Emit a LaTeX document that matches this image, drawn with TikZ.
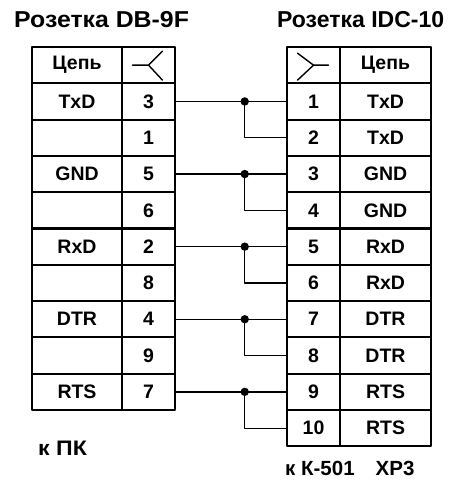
\documentclass[tikz,border=0pt]{standalone}
\usepackage{fontspec}
\setmainfont{Liberation Sans}
\begin{document}
\begin{tikzpicture}[x=1pt,y=-1pt,line join=round,line cap=round]
				\tikzset{cell/.style={draw,line width=2.1pt,minimum height=36.3pt,inner sep=0pt,font=\fontsize{19.5}{19.5}\selectfont\bfseries},
					namecol/.style={cell,minimum width=90pt},
					pincol/.style={cell,minimum width=53pt},
					wire/.style={line width=1.3pt},
					label/.style={anchor=base west,inner sep=0pt,font=\fontsize{#1}{#1}\selectfont\bfseries}}
				\useasboundingbox (0,0) rectangle (454,486);
				% titles
				\node[label=23,xscale=1.08] (tl) at (14,28) {Розетка DB-9F};
				\node[label=23] (tr) at (277,28) {Розетка IDC-10};
				% left socket
				\node[namecol] (n0) at (77,65.15) {Цепь};
				\node[pincol] (a0) at (148.5,65.15) {};
				\draw[line width=1.4pt] (a0.center) ++(-16,0) -- (a0.center) -- ++(14,-14) (a0.center) -- ++(14,15);
				\foreach \k/\nm/\pn in {1/TxD/3,2//1,3/GND/5,4//6,5/RxD/2,6//8,7/DTR/4,8//9,9/RTS/7}{
					\node[namecol] (n\k) at (77,{47+36.3*(\k+0.5)}) {\nm};
					\node[pincol] (a\k) at (148.5,{47+36.3*(\k+0.5)}) {\pn};
				}
				% right socket
				\node[pincol] (b0) at (313.5,65.15) {};
				\node[namecol,minimum width=91pt] (m0) at (385.5,65.15) {Цепь};
				\draw[line width=1.4pt] ([shift={(-16,-12)}]b0.center) -- (b0.center) -- ++(15,0);
				\draw[line width=1.4pt] ([shift={(-16,15)}]b0.center) -- (b0.center);
				\foreach \k/\nm in {1/TxD,2/TxD,3/GND,4/GND,5/RxD,6/RxD,7/DTR,8/DTR,9/RTS,10/RTS}{
					\node[pincol] (b\k) at (313.5,{47+36.3*(\k+0.5)}) {\k};
					\node[namecol,minimum width=91pt] (m\k) at (385.5,{47+36.3*(\k+0.5)}) {\nm};
				}
				% wires
				\foreach \i/\j in {1/2,3/4,5/6,7/8,9/10}{
					\draw[wire] (a\i.east) -- coordinate[pos=0.625] (j\i) (b\i.west);
					\draw[wire] (j\i) |- (b\j.west);
					\fill (j\i) circle (4.2pt);
				}
				\node[label=21,xscale=1.1] (pc) at (38,455) {к ПК};
				\node[label=20.5] (xp) at (285,475) {к К-501\hspace{21pt}ХР3};
			\end{tikzpicture}
\end{document}
